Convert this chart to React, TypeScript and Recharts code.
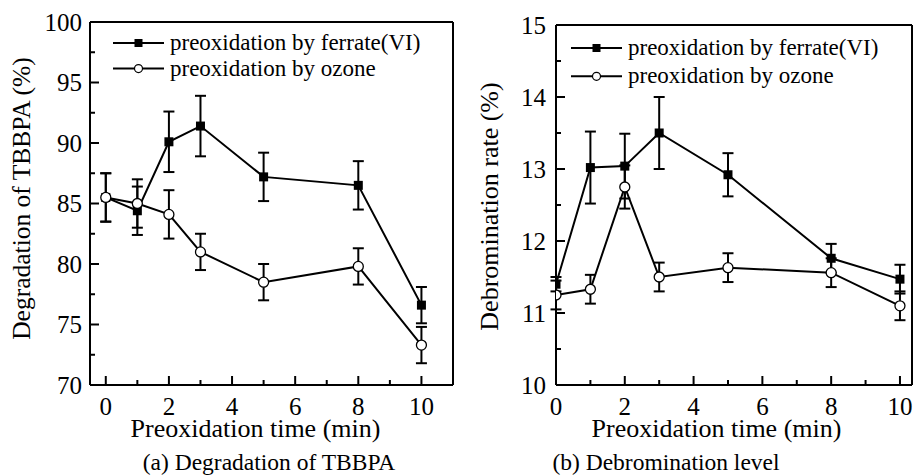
import React from 'react';
import { LineChart, Line, XAxis, YAxis, ErrorBar, Legend, Label } from 'recharts';

const FONT = '"Liberation Serif", "Times New Roman", serif';

const TIMES = [0, 1, 2, 3, 5, 8, 10];

// (a) degradation of TBBPA (%)
const FERRATE_DEG = [85.5, 84.4, 90.1, 91.4, 87.2, 86.5, 76.6];
const FERRATE_DEG_ERR = [2.0, 2.0, 2.5, 2.5, 2.0, 2.0, 1.5];
const OZONE_DEG = [85.5, 85.0, 84.1, 81.0, 78.5, 79.8, 73.3];
const OZONE_DEG_ERR = [2.0, 2.0, 2.0, 1.5, 1.5, 1.5, 1.5];

// (b) debromination rate (%)
const FERRATE_DEB = [11.4, 13.02, 13.04, 13.5, 12.92, 11.76, 11.47];
const FERRATE_DEB_ERR = [0.1, 0.5, 0.45, 0.5, 0.3, 0.2, 0.2];
const OZONE_DEB = [11.25, 11.33, 12.75, 11.5, 11.63, 11.56, 11.1];
const OZONE_DEB_ERR = [0.2, 0.2, 0.3, 0.2, 0.2, 0.2, 0.2];

const X_TICKS = [0, 1, 2, 3, 4, 5, 6, 7, 8, 9, 10];
const DEG_TICKS = [70, 72.5, 75, 77.5, 80, 82.5, 85, 87.5, 90, 92.5, 95, 97.5, 100];
const DEB_TICKS = [10, 10.5, 11, 11.5, 12, 12.5, 13, 13.5, 14, 14.5, 15];

const SERIES_NAMES = ['preoxidation by ferrate(VI)', 'preoxidation by ozone'];

const degData = TIMES.map((t, i) => ({
  t,
  ferrate: FERRATE_DEG[i],
  ferrateErr: FERRATE_DEG_ERR[i],
  ozone: OZONE_DEG[i],
  ozoneErr: OZONE_DEG_ERR[i],
}));

const debData = TIMES.map((t, i) => ({
  t,
  ferrate: FERRATE_DEB[i],
  ferrateErr: FERRATE_DEB_ERR[i],
  ozone: OZONE_DEB[i],
  ozoneErr: OZONE_DEB_ERR[i],
}));

function XTick({ x, y, payload }: any) {
  const major = payload.value % 2 === 0;
  return (
    <g>
      <line x1={x} x2={x} y1={y} y2={y - (major ? 9 : 5)} stroke="#000" strokeWidth={2} />
      {major && (
        <text x={x} y={y + 30} textAnchor="middle" fontSize={25} fontFamily={FONT} fill="#000">
          {payload.value}
        </text>
      )}
    </g>
  );
}

function makeYTick(step: number, gap: number) {
  return function YTick({ x, y, payload }: any) {
    const major = payload.value % step === 0;
    return (
      <g>
        <line x1={x} x2={x + (major ? 9 : 5)} y1={y} y2={y} stroke="#000" strokeWidth={2} />
        {major && (
          <text x={x - gap} y={y + 8.5} textAnchor="end" fontSize={25} fontFamily={FONT} fill="#000">
            {payload.value}
          </text>
        )}
      </g>
    );
  };
}

// rotated y-axis title, baseline placed `base` px right of the axis box's left edge
function makeYTitle(value: string, base: number, shift: number, size: number) {
  return function YTitle(props: any) {
    const vb = props.viewBox || { x: 0, y: 0, width: 0, height: 0 };
    const bx = vb.x + base;
    const cy = vb.y + vb.height / 2 + shift;
    return (
      <text
        x={bx}
        y={cy}
        transform={`rotate(-90, ${bx}, ${cy})`}
        textAnchor="middle"
        fontSize={size}
        fontFamily={FONT}
        fill="#000"
      >
        {value}
      </text>
    );
  };
}

const SquareDot = (props: any) => {
  const { cx, cy, index } = props;
  if (cx == null || cy == null) return null;
  return <rect key={`sq-${index}`} x={cx - 4.5} y={cy - 4.5} width={9} height={9} fill="#000" />;
};

const CircleDot = (props: any) => {
  const { cx, cy, index } = props;
  if (cx == null || cy == null) return null;
  return <circle key={`ci-${index}`} cx={cx} cy={cy} r={5} fill="#fff" stroke="#000" strokeWidth={1.3} />;
};

function LegendBox({ gap }: { gap: number }) {
  return (
    <svg width={330} height={gap + 26} style={{ display: 'block', overflow: 'visible' }}>
      {SERIES_NAMES.map((name, i) => {
        const cy = 12 + i * gap;
        return (
          <g key={name}>
            <line x1={0} x2={51} y1={cy} y2={cy} stroke="#000" strokeWidth={2} />
            {i === 0 ? (
              <rect x={25.5 - 4} y={cy - 4} width={8} height={8} fill="#000" />
            ) : (
              <circle cx={25.5} cy={cy} r={4} fill="#fff" stroke="#000" strokeWidth={1.2} />
            )}
            <text x={57} y={cy + 7} fontSize={23} fontFamily={FONT} fill="#000">
              {name}
            </text>
          </g>
        );
      })}
    </svg>
  );
}

interface PanelProps {
  data: typeof degData;
  width: number;
  top: number;
  right: number;
  left: number;
  xDomain: [number, number];
  yDomain: [number, number];
  yTicks: number[];
  yStep: number;
  yGap: number;
  yLabel: string;
  yLabelBase: number;
  yLabelShift: number;
  yLabelSize: number;
  xLabelShift: number;
  caption: string;
  captionShift: number;
  legendLeft: number;
  legendTop: number;
  legendGap: number;
}

function Panel(p: PanelProps) {
  const frame = { stroke: '#000', strokeWidth: 2 };
  return (
    <LineChart
      width={p.width}
      height={475}
      data={p.data}
      margin={{ top: p.top - 1, right: p.right - 1, bottom: 0, left: 0 }}
    >
      <XAxis
        type="number"
        dataKey="t"
        domain={p.xDomain}
        ticks={X_TICKS}
        interval={0}
        allowDataOverflow
        height={90}
        tickSize={0}
        tickMargin={0}
        tickLine={false}
        tick={<XTick />}
        axisLine={frame}
      >
        <Label
          value="Preoxidation time (min)"
          position="insideTop"
          offset={34}
          dx={p.xLabelShift}
          style={{ fontSize: 26, fontFamily: FONT, fill: '#000' }}
        />
        <Label
          value={p.caption}
          position="insideTop"
          offset={68}
          dx={p.captionShift}
          style={{ fontSize: 23.5, fontFamily: FONT, fill: '#000' }}
        />
      </XAxis>
      <XAxis xAxisId="top" orientation="top" height={1} tick={false} tickLine={false} axisLine={frame} />
      <YAxis
        type="number"
        domain={p.yDomain}
        ticks={p.yTicks}
        interval={0}
        allowDataOverflow
        width={p.left}
        tickSize={0}
        tickMargin={0}
        tickLine={false}
        tick={makeYTick(p.yStep, p.yGap)}
        axisLine={frame}
      >
        <Label content={makeYTitle(p.yLabel, p.yLabelBase, p.yLabelShift, p.yLabelSize)} />
      </YAxis>
      <YAxis yAxisId="right" orientation="right" width={1} tick={false} tickLine={false} axisLine={frame} />
      <Legend
        layout="horizontal"
        verticalAlign="middle"
        align="center"
        content={<LegendBox gap={p.legendGap} />}
        wrapperStyle={{ left: p.legendLeft, top: p.legendTop, width: 'auto', height: 'auto' }}
      />
      <Line
        type="linear"
        dataKey="ferrate"
        name={SERIES_NAMES[0]}
        stroke="#000"
        strokeWidth={2}
        dot={SquareDot}
        activeDot={false}
        isAnimationActive={false}
      >
        <ErrorBar dataKey="ferrateErr" width={5.5} stroke="#000" strokeWidth={2} direction="y" />
      </Line>
      <Line
        type="linear"
        dataKey="ozone"
        name={SERIES_NAMES[1]}
        stroke="#000"
        strokeWidth={2}
        dot={CircleDot}
        activeDot={false}
        isAnimationActive={false}
      >
        <ErrorBar dataKey="ozoneErr" width={5.5} stroke="#000" strokeWidth={2} direction="y" />
      </Line>
    </LineChart>
  );
}

export default function App() {
  return (
    <div
      style={{
        position: 'absolute',
        left: 0,
        top: 0,
        width: 916,
        height: 475,
        overflow: 'hidden',
        background: '#fff',
        fontFamily: FONT,
      }}
    >
      <div style={{ position: 'absolute', left: 0, top: 0 }}>
        <Panel
          data={degData}
          width={460}
          top={22}
          right={7}
          left={90}
          xDomain={[-0.5, 11]}
          yDomain={[70, 100]}
          yTicks={DEG_TICKS}
          yStep={5}
          yGap={8}
          yLabel="Degradation of TBBPA (%)"
          yLabelBase={30}
          yLabelShift={-5}
          yLabelSize={25.5}
          xLabelShift={-16}
          caption="(a) Degradation of TBBPA"
          captionShift={-2.5}
          legendLeft={113}
          legendTop={30.7}
          legendGap={25.6}
        />
      </div>
      <div style={{ position: 'absolute', left: 460, top: 0 }}>
        <Panel
          data={debData}
          width={456}
          top={25}
          right={4}
          left={96}
          xDomain={[0, 10.35]}
          yDomain={[10, 15]}
          yTicks={DEB_TICKS}
          yStep={1}
          yGap={10}
          yLabel="Debromination rate (%)"
          yLabelBase={38}
          yLabelShift={1.5}
          yLabelSize={26}
          xLabelShift={-17.5}
          caption="(b) Debromination level"
          captionShift={-68}
          legendLeft={111}
          legendTop={35.7}
          legendGap={28.3}
        />
      </div>
    </div>
  );
}
